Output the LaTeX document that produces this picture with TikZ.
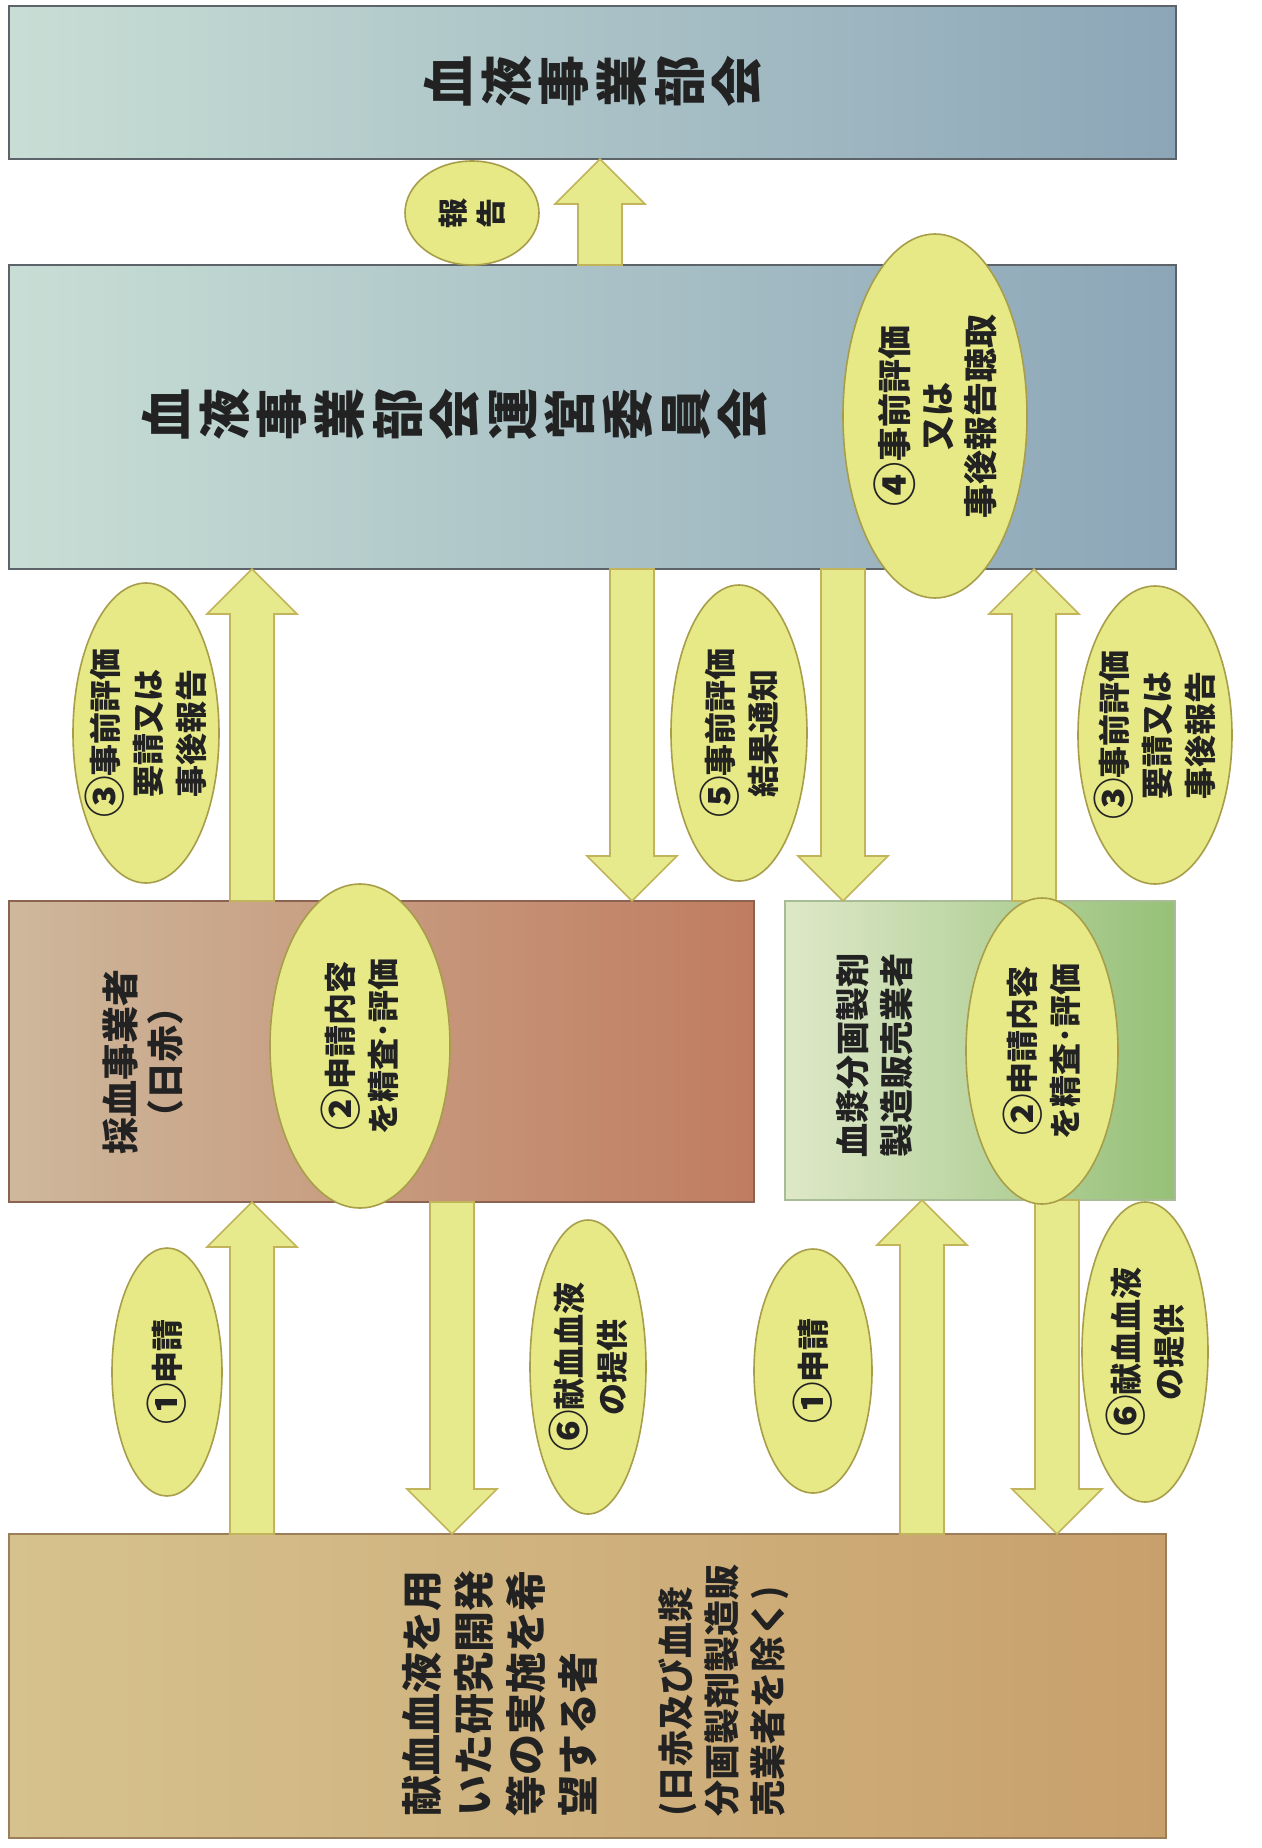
\documentclass[tikz,border=0pt]{standalone}
\usepackage{graphicx}
\usepackage{fontspec}
\newfontfamily\jp{Noto Sans CJK JP}
\usetikzlibrary{shapes.geometric,calc,fit}
\definecolor{blueL}{RGB}{200,222,213}
\definecolor{blueR}{RGB}{140,166,184}
\definecolor{bluebd}{RGB}{92,100,106}
\definecolor{redL}{RGB}{206,184,156}
\definecolor{redR}{RGB}{192,124,96}
\definecolor{redbd}{RGB}{140,98,80}
\definecolor{grnL}{RGB}{222,232,200}
\definecolor{grnR}{RGB}{150,192,120}
\definecolor{grnbd}{RGB}{168,188,150}
\definecolor{tanL}{RGB}{214,194,142}
\definecolor{tanM}{RGB}{220,200,148}
\definecolor{tanR}{RGB}{200,160,108}
\definecolor{tanbd}{RGB}{156,126,88}
\definecolor{ellfill}{RGB}{230,233,133}
\definecolor{ellbd}{RGB}{168,158,74}
\definecolor{arrfill}{RGB}{231,234,140}
\definecolor{arrbd}{RGB}{194,180,90}
\definecolor{txt}{RGB}{34,34,34}
\newcommand{\cn}[1]{\raisebox{-0.11em}{\scalebox{1.3}{#1}}}
\newcommand{\blk}[2]{%
  \path ($(#2)!22.5pt!(#1)$) coordinate (hb);
  \filldraw[arrowst] ($(#1)!11pt!90:(#2)$) -- ($(hb)!11pt!90:(#2)$) -- ($(hb)!22.5pt!90:(#2)$) -- (#2) -- ($(hb)!22.5pt!-90:(#2)$) -- ($(hb)!11pt!-90:(#2)$) -- ($(#1)!11pt!-90:(#2)$) -- cycle;}
\begin{document}
\begin{tikzpicture}[x=0.5pt,y=-0.5pt,
  box/.style={draw, line width=1pt, inner sep=0pt, outer sep=0pt},
  bluebox/.style={box, draw=bluebd, left color=blueL, right color=blueR},
  redbox/.style={box, draw=redbd, left color=redL, right color=redR},
  grnbox/.style={box, draw=grnbd, left color=grnL, right color=grnR},
  tanbox/.style={box, draw=tanbd, left color=tanL, middle color=tanM, right color=tanR},
  ell/.style={ellipse, draw=ellbd, fill=ellfill, line width=0.8pt, inner sep=0pt, outer sep=0pt},
  arrowst/.style={fill=arrfill, draw=arrbd, line width=0.8pt, line join=miter},
  lbl/.style={rotate=90, align=center, inner sep=0pt, text=txt, font=\jp\bfseries},
  big/.style={lbl, font=\jp\bfseries\fontsize{26}{28.8}\selectfont},
  mid/.style={lbl, font=\jp\bfseries\fontsize{18.5}{22.5}\selectfont},
  etx/.style={lbl, font=\jp\bfseries\fontsize{16}{21.5}\selectfont}
]
\useasboundingbox (0,0) rectangle (1262,1848);
\fill[white] (0,0) rectangle (1262,1848);

% boxes
\node[bluebox, fit={(9,6) (1176,159)}] (box1) {};
\node[bluebox, fit={(9,265) (1176,569)}] (box2) {};
\node[redbox, fit={(9,901) (754,1202)}] (box3) {};
\node[grnbox, fit={(785,901) (1175,1200)}] (box4) {};
\node[tanbox, fit={(9,1534) (1166,1838)}] (box5) {};

% box labels
\node[big] (tb1) at (593,81) {血\\液\\事\\業\\部\\会};
\node[big] (tb2) at (455,414) {血\\液\\事\\業\\部\\会\\運\\営\\委\\員\\会};
\node[mid] (tb3) at (143,1062) {採血事業者\\（日赤）};
\node[lbl, font=\jp\bfseries\fontsize{17}{22}\selectfont] (tb4) at (875,1055) {血漿分画製剤\\製造販売業者};
\node[lbl, anchor=west, align=left, font=\jp\bfseries\fontsize{20.5}{26}\selectfont] (tb5a) at (500,1817) {献血血液を用\\いた研究開発\\等の実施を希\\望する者};
\node[lbl, anchor=west, align=left, font=\jp\bfseries\fontsize{18}{23}\selectfont] (tb5b) at (724,1817) {(日赤及び血漿\\分画製剤製造販\\売業者を除く)};

% arrow columns
\coordinate (x0) at (600,0);
\coordinate (x1) at (252,0);
\coordinate (x2) at (632,0);
\coordinate (x3) at (843,0);
\coordinate (x4) at (1034,0);
\coordinate (x6) at (452,0);
\coordinate (x7) at (922,0);
\coordinate (x8) at (1057,0);
\coordinate (a0s) at (box2.north -| x0); \coordinate (a0e) at (box1.south -| x0);
\coordinate (a1s) at (box3.north -| x1); \coordinate (a1e) at (box2.south -| x1);
\coordinate (a2s) at (box2.south -| x2); \coordinate (a2e) at (box3.north -| x2);
\coordinate (a3s) at (box2.south -| x3); \coordinate (a3e) at (box4.north -| x3);
\coordinate (a4s) at (box4.north -| x4); \coordinate (a4e) at (box2.south -| x4);
\coordinate (a5s) at (box5.north -| x1); \coordinate (a5e) at (box3.south -| x1);
\coordinate (a6s) at (box3.south -| x6); \coordinate (a6e) at (box5.north -| x6);
\coordinate (a7s) at (box5.north -| x7); \coordinate (a7e) at (box4.south -| x7);
\coordinate (a8s) at (box4.south -| x8); \coordinate (a8e) at (box5.north -| x8);
\blk{a0s}{a0e}
\blk{a1s}{a1e}
\blk{a2s}{a2e}
\blk{a3s}{a3e}
\blk{a4s}{a4e}
\blk{a5s}{a5e}
\blk{a6s}{a6e}
\blk{a7s}{a7e}
\blk{a8s}{a8e}

% ellipses
\node[ell, minimum width=67pt, minimum height=52pt] (e0) at (472,213) {};
\node[ell, minimum width=92pt, minimum height=182pt] (e4) at (935,416) {};
\node[ell, minimum width=73pt, minimum height=150pt] (e3L) at (146,733) {};
\node[ell, minimum width=68pt, minimum height=148pt] (e5) at (739,733) {};
\node[ell, minimum width=77pt, minimum height=149pt] (e3R) at (1155,735) {};
\node[ell, minimum width=90pt, minimum height=162pt] (e2L) at (360,1046) {};
\node[ell, minimum width=76pt, minimum height=153pt] (e2R) at (1042,1051) {};
\node[ell, minimum width=55pt, minimum height=124pt] (e1L) at (167,1372) {};
\node[ell, minimum width=58pt, minimum height=147pt] (e6L) at (588,1367) {};
\node[ell, minimum width=59pt, minimum height=122pt] (e1R) at (813,1371) {};
\node[ell, minimum width=63pt, minimum height=150pt] (e6R) at (1145,1352) {};

% ellipse labels
\node[lbl, font=\jp\bfseries\fontsize{15}{19}\selectfont] (te0) at (e0) {報\\告};
\node[lbl, font=\jp\bfseries\fontsize{17}{21.5}\selectfont] (te4) at (e4) {\cn{④}事前評価\\又は\\事後報告聴取};
\node[etx] (te3L) at (e3L) {\cn{③}事前評価\\要請又は\\事後報告};
\node[etx] (te5) at (e5) {\cn{⑤}事前評価\\結果通知};
\node[etx] (te3R) at (e3R) {\cn{③}事前評価\\要請又は\\事後報告};
\node[etx] (te2L) at (e2L) {\cn{②}申請内容\\を精査･評価};
\node[etx] (te2R) at (e2R) {\cn{②}申請内容\\を精査･評価};
\node[etx] (te1L) at (e1L) {\cn{①}申請};
\node[etx] (te6L) at (e6L) {\cn{⑥}献血血液\\の提供};
\node[etx] (te1R) at (e1R) {\cn{①}申請};
\node[etx] (te6R) at (e6R) {\cn{⑥}献血血液\\の提供};
\end{tikzpicture}
\end{document}
